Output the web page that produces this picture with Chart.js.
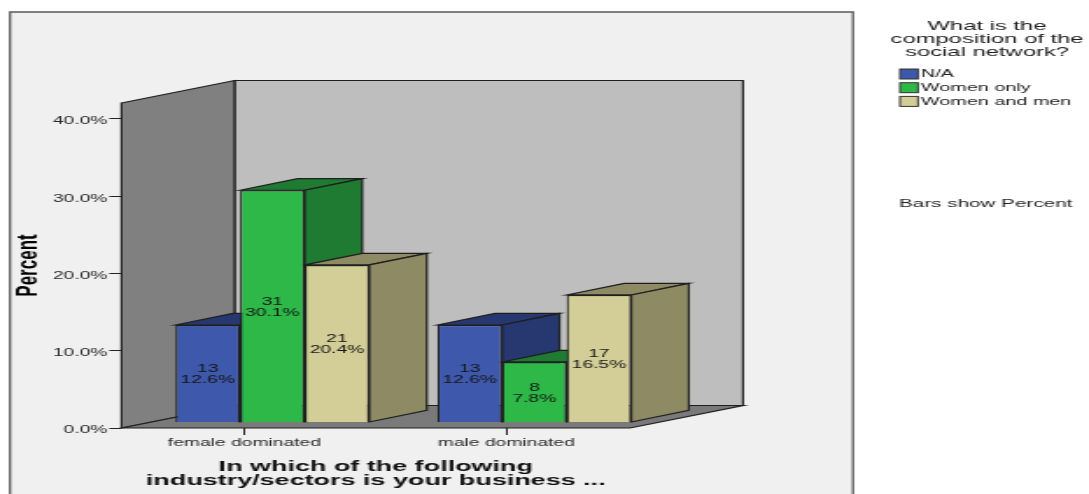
<!DOCTYPE html>
<html>
<head>
<meta charset="utf-8">
<title>Composition of the social network by industry</title>
<script src="https://cdn.jsdelivr.net/npm/chart.js@4/dist/chart.umd.min.js"></script>
<style>
  html, body { margin: 0; padding: 0; background: #fff; overflow: hidden; }
  #chart { display: block; position: absolute; left: 0; top: 0; transform-origin: 0 0; transform: scaleX(1.7508); }
</style>
</head>
<body>
<canvas id="chart" width="622" height="494"></canvas>
<script>
const categories = ['female dominated', 'male dominated'];
const seriesNames = ['N/A', 'Women only', 'Women and men'];

const naPercent = [12.6, 12.6];
const womenOnlyPercent = [30.1, 7.8];
const womenAndMenPercent = [20.4, 16.5];

const naCount = [13, 13];
const womenOnlyCount = [31, 8];
const womenAndMenCount = [21, 17];

const percentTicks = [0, 10, 20, 30, 40];

const legendTitle = ['What is the', 'composition of the', 'social network?'];
const legendNote = 'Bars show Percent';

const frontColors = ['#3E58AC', '#2EB848', '#D3CE97'];
const sideColors = ['#27376F', '#1F7A32', '#8E8A64'];

// the canvas is stretched sideways by css, so page x positions get divided down
const stretchX = 1089 / 622;
const px = x => x / stretchX;

const barDepthX = px(57.5), barDepthY = 11.6;
const wallDepthX = px(113), wallDepthY = 22.5;
const edgeColor = '#1f1f1f';
const font = (size, weight) => `${weight || 'normal'} ${size}px "Liberation Sans", Arial, sans-serif`;
const categoryTicks = scale => { scale.ticks = categories.map((c, i) => ({ value: i })); };

function polygon(ctx, points, fill, stroke, lineWidth) {
    ctx.beginPath();
    points.forEach((p, i) => i ? ctx.lineTo(p[0], p[1]) : ctx.moveTo(p[0], p[1]));
    ctx.closePath();
    ctx.fillStyle = fill;
    ctx.fill();
    ctx.strokeStyle = stroke;
    ctx.lineWidth = lineWidth;
    ctx.stroke();
}

// grey frame, the two walls and the floor of the box
const boxPlugin = {
    id: 'box',
    beforeDraw(chart) {
        const ctx = chart.ctx;
        const { left, right, top, bottom } = chart.chartArea;
        const dx = wallDepthX, dy = wallDepthY;
        ctx.save();
        polygon(ctx, [[px(10), 12], [px(853), 12], [px(853), 500], [px(10), 500]], '#F0F0F0', '#5a5a5a', 1.3);
        polygon(ctx, [[left + dx, top - dy], [right + dx, top - dy], [right + dx, bottom - dy], [left + dx, bottom - dy]], '#BEBEBE', edgeColor, 1.2);
        polygon(ctx, [[left, top], [left + dx, top - dy], [left + dx, bottom - dy], [left, bottom]], '#808080', edgeColor, 1.2);
        polygon(ctx, [[left, bottom], [left + dx, bottom - dy], [right + dx, bottom - dy], [right, bottom]], '#7A7A7A', edgeColor, 1.2);
        ctx.restore();
    },
    // top and side faces go under the fronts that the library draws
    beforeDatasetsDraw(chart) {
        const ctx = chart.ctx;
        ctx.save();
        chart.data.datasets.forEach((dataset, i) => {
            chart.getDatasetMeta(i).data.forEach(bar => {
                const l = bar.x - bar.width / 2, r = bar.x + bar.width / 2;
                const t = bar.y, b = bar.base;
                polygon(ctx, [[l, t], [l + barDepthX, t - barDepthY], [r + barDepthX, t - barDepthY], [r, t]], sideColors[i], edgeColor, 1.2);
                polygon(ctx, [[r, t], [r + barDepthX, t - barDepthY], [r + barDepthX, b - barDepthY], [r, b]], sideColors[i], edgeColor, 1.2);
            });
        });
        ctx.restore();
    },
    afterDatasetsDraw(chart) {
        const ctx = chart.ctx;
        ctx.save();
        ctx.font = font(11);
        ctx.fillStyle = '#151515';
        ctx.textAlign = 'center';
        ctx.textBaseline = 'middle';
        chart.data.datasets.forEach((dataset, i) => {
            chart.getDatasetMeta(i).data.forEach((bar, j) => {
                const mid = (bar.y + bar.base) / 2;
                ctx.fillText(dataset.counts[j], bar.x, mid - 4.5);
                ctx.fillText(dataset.data[j].y.toFixed(1) + '%', bar.x, mid + 6.5);
            });
        });
        ctx.restore();
    },
    afterDraw(chart) {
        const ctx = chart.ctx;
        const legendCenter = px(987), swatchLeft = px(900), swatchWidth = px(18);
        ctx.save();
        ctx.textBaseline = 'middle';
        ctx.fillStyle = '#222';
        ctx.textAlign = 'center';
        ctx.font = font(13.6);
        legendTitle.forEach((line, i) => ctx.fillText(line, legendCenter, 26.5 + i * 13));
        ctx.textAlign = 'left';
        ctx.font = font(11.3);
        seriesNames.forEach((name, i) => {
            const y = 74 + i * 13.7;
            ctx.fillStyle = frontColors[i];
            ctx.strokeStyle = '#333';
            ctx.lineWidth = 1;
            ctx.fillRect(swatchLeft, y - 5, swatchWidth, 10);
            ctx.strokeRect(swatchLeft, y - 5, swatchWidth, 10);
            ctx.fillStyle = '#222';
            ctx.fillText(name, px(921), y);
        });
        ctx.font = font(11.8);
        ctx.fillText(legendNote, px(899), 204);
        ctx.restore();
    }
};

function barDataset(index, percents, counts) {
    return {
        label: seriesNames[index],
        data: percents.map((value, i) => ({ x: i, y: value })),
        counts: counts,
        backgroundColor: frontColors[index],
        borderColor: edgeColor,
        borderWidth: 1.2,
        xAxisID: 'xBars',
        yAxisID: 'yBars',
        categoryPercentage: 0.74,
        barPercentage: 1
    };
}

new Chart(document.getElementById('chart'), {
    type: 'bar',
    data: {
        datasets: [
            barDataset(0, naPercent, naCount),
            barDataset(1, womenOnlyPercent, womenOnlyCount),
            barDataset(2, womenAndMenPercent, womenAndMenCount)
        ]
    },
    plugins: [boxPlugin],
    options: {
        responsive: false,
        animation: false,
        events: [],
        layout: { padding: { left: 0, top: 103, right: 622 - px(630), bottom: 0 } },
        plugins: { legend: { display: false }, tooltip: { enabled: false } },
        scales: {
            // visible axes sit on the front edge of the box
            x: {
                type: 'linear',
                position: 'bottom',
                offset: false,
                min: -0.469,
                max: 1.472,
                afterBuildTicks: categoryTicks,
                afterFit: scale => { scale.height = 66; },
                border: { display: false },
                grid: { offset: false, drawOnChartArea: false, tickLength: 7, tickColor: '#222' },
                ticks: {
                    autoSkip: false,
                    maxRotation: 0,
                    minRotation: 0,
                    padding: 1,
                    color: '#2a2a2a',
                    font: { family: '"Liberation Sans", Arial, sans-serif', size: 11 },
                    callback: value => categories[value]
                },
                title: {
                    display: true,
                    text: ['In which of the following', 'industry/sectors is your business ...'],
                    color: '#111',
                    font: { family: '"Liberation Sans", Arial, sans-serif', size: 15.4, weight: 'bold', lineHeight: 0.91 },
                    padding: { top: 0, bottom: 6 }
                }
            },
            y: {
                type: 'linear',
                position: 'left',
                min: 0,
                max: 42.07,
                afterBuildTicks: scale => { scale.ticks = percentTicks.map(value => ({ value })); },
                afterFit: scale => { scale.width = px(121.5); },
                border: { display: false },
                grid: { drawOnChartArea: false, tickLength: 7, tickColor: '#222' },
                ticks: {
                    padding: 1,
                    labelOffset: 2.3,
                    color: '#2a2a2a',
                    font: { family: '"Liberation Sans", Arial, sans-serif', size: 11 },
                    callback: value => value.toFixed(1) + '%'
                },
                title: {
                    display: true,
                    text: 'Percent',
                    color: '#000',
                    font: { family: '"Liberation Sans", Arial, sans-serif', size: 17, weight: 'bold', lineHeight: 1.2 },
                    padding: { top: 6, bottom: 0 }
                }
            },
            // bars stand a little way into the box, so they get their own shifted scales
            xBars: { type: 'linear', display: false, offset: false, grid: { offset: false }, afterBuildTicks: categoryTicks, min: -0.5758, max: 1.3651 },
            yBars: { type: 'linear', display: false, min: -0.779, max: 41.43 }
        }
    }
});
</script>
</body>
</html>
